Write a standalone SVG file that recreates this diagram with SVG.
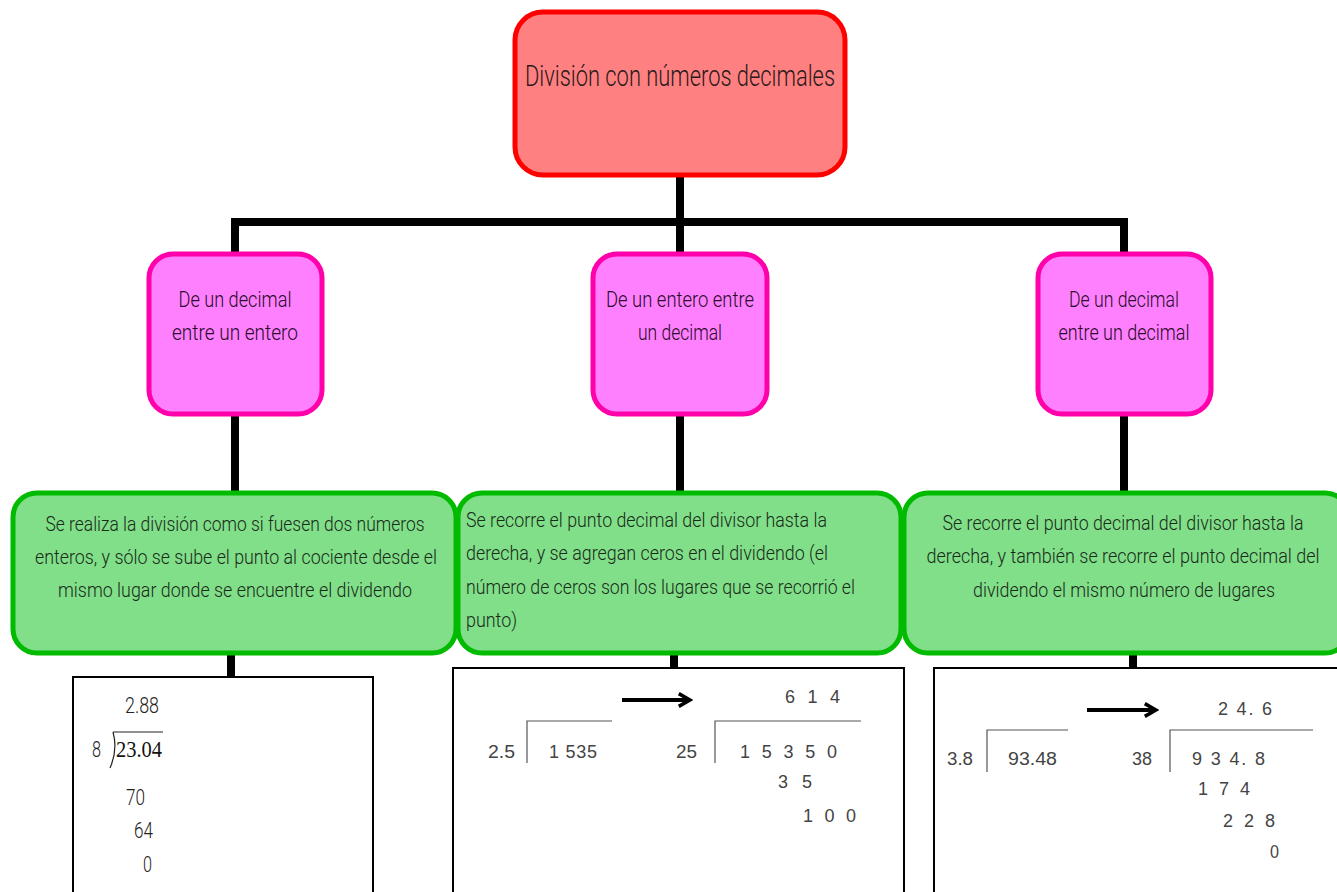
<svg xmlns="http://www.w3.org/2000/svg" width="1337" height="892" viewBox="0 0 1337 892">
<defs>
<style>
.title{font-family:Roboto,"Liberation Sans",sans-serif;font-weight:300;font-size:29px;fill:#2a1a1a;text-anchor:middle}
.pink{fill:#FF80FF;stroke:#FF00AA;stroke-width:5}
.green{fill:#80DF88;stroke:#00BB00;stroke-width:5}
.ptxt{font-family:Roboto,"Liberation Sans",sans-serif;font-weight:300;font-size:22px;fill:#2a0a2a;text-anchor:middle}
.gtxt{font-family:Roboto,"Liberation Sans",sans-serif;font-weight:300;font-size:21px;fill:#1a2a1a}
.mid{text-anchor:middle}
.conn{stroke:#000;stroke-width:8;fill:none}
.wbox{fill:#fff;stroke:#000;stroke-width:2}
.num{font-family:"Liberation Sans",Arial,sans-serif;font-size:18px;fill:#444}
.cnum{font-family:Roboto,"Liberation Sans",sans-serif;font-weight:300;font-size:22px;fill:#222}
.div{stroke:#555;stroke-width:1.2;fill:none}
.arr{stroke:#000;stroke-width:4;fill:none}
</style>
<marker id="ah" viewBox="0 0 10 10" refX="8" refY="5" markerWidth="4" markerHeight="4" orient="auto" markerUnits="strokeWidth">
<path d="M1,1 L8,5 L1,9" fill="none" stroke="#000" stroke-width="2.2"/>
</marker>
</defs>
<rect width="1337" height="892" fill="#fff"/>
<g id="connectors">
<path class="conn" d="M680,176 V222 M235,222 H1124 M235,218 V254 M680,222 V254 M1124,218 V254"/>
<path class="conn" d="M235,414 V494 M680,414 V494 M1124,414 V494"/>
<path class="conn" d="M231,654 V678 M674,654 V669 M1133,654 V669"/>
</g>
<g id="root">
<rect x="515" y="12" width="330" height="163" rx="28" fill="#FF8080" stroke="#FF0000" stroke-width="5"/>
<text class="title" x="680" y="86" textLength="310" lengthAdjust="spacingAndGlyphs">División con números decimales</text>
</g>
<g id="n1">
<rect class="pink" x="149" y="254" width="173" height="160" rx="24"/>
<text class="ptxt" x="235" y="307" textLength="113" lengthAdjust="spacingAndGlyphs">De un decimal</text>
<text class="ptxt" x="235" y="340" textLength="126" lengthAdjust="spacingAndGlyphs">entre un entero</text>
</g>
<g id="n2">
<rect class="pink" x="593" y="254" width="174" height="160" rx="24"/>
<text class="ptxt" x="680" y="307" textLength="148" lengthAdjust="spacingAndGlyphs">De un entero entre</text>
<text class="ptxt" x="680" y="340" textLength="84" lengthAdjust="spacingAndGlyphs">un decimal</text>
</g>
<g id="n3">
<rect class="pink" x="1038" y="254" width="173" height="160" rx="24"/>
<text class="ptxt" x="1124" y="307" textLength="110" lengthAdjust="spacingAndGlyphs">De un decimal</text>
<text class="ptxt" x="1124" y="340" textLength="131" lengthAdjust="spacingAndGlyphs">entre un decimal</text>
</g>
<g id="g1">
<rect class="green" x="13" y="493" width="443" height="160" rx="24"/>
<text class="gtxt mid" x="235" y="531" textLength="379" lengthAdjust="spacingAndGlyphs">Se realiza la división como si fuesen dos números</text>
<text class="gtxt mid" x="236" y="564" textLength="402" lengthAdjust="spacingAndGlyphs">enteros, y sólo se sube el punto al cociente desde el</text>
<text class="gtxt mid" x="235" y="597" textLength="354" lengthAdjust="spacingAndGlyphs">mismo lugar donde se encuentre el dividendo</text>
</g>
<g id="g2">
<rect class="green" x="458" y="493" width="443" height="160" rx="24"/>
<text class="gtxt" x="466" y="527" textLength="361" lengthAdjust="spacingAndGlyphs">Se recorre el punto decimal del divisor hasta la</text>
<text class="gtxt" x="466" y="560" textLength="362" lengthAdjust="spacingAndGlyphs">derecha, y se agregan ceros en el dividendo (el</text>
<text class="gtxt" x="466" y="594" textLength="389" lengthAdjust="spacingAndGlyphs">número de ceros son los lugares que se recorrió el</text>
<text class="gtxt" x="466" y="627" textLength="51" lengthAdjust="spacingAndGlyphs">punto)</text>
</g>
<g id="g3">
<rect class="green" x="904" y="493" width="445" height="160" rx="24"/>
<text class="gtxt mid" x="1123" y="530" textLength="361" lengthAdjust="spacingAndGlyphs">Se recorre el punto decimal del divisor hasta la</text>
<text class="gtxt mid" x="1123" y="563" textLength="393" lengthAdjust="spacingAndGlyphs">derecha, y también se recorre el punto decimal del</text>
<text class="gtxt mid" x="1124" y="597" textLength="302" lengthAdjust="spacingAndGlyphs">dividendo el mismo número de lugares</text>
</g>
<g id="ex1">
<rect class="wbox" x="73" y="677" width="300" height="230"/>
<text class="cnum" x="125" y="713" textLength="34" lengthAdjust="spacingAndGlyphs">2.88</text>
<text class="cnum" x="92" y="757" textLength="9" lengthAdjust="spacingAndGlyphs">8</text>
<path d="M113,732 H163 M113,732 Q118,750 110,768" stroke="#222" stroke-width="1.2" fill="none"/>
<text x="116" y="757" font-family="'Liberation Serif','Times New Roman',serif" font-size="24" fill="#111" textLength="46" lengthAdjust="spacingAndGlyphs">23.04</text>
<text class="cnum" x="126" y="805" textLength="19" lengthAdjust="spacingAndGlyphs">70</text>
<text class="cnum" x="134" y="838" textLength="19" lengthAdjust="spacingAndGlyphs">64</text>
<text class="cnum" x="143" y="872" textLength="9" lengthAdjust="spacingAndGlyphs">0</text>
</g>
<g id="ex2">
<rect class="wbox" x="453" y="668" width="451" height="240"/>
<path class="arr" d="M622,700 H690" marker-end="url(#ah)"/>
<text class="num" x="785" y="703" textLength="55" lengthAdjust="spacing">6 1 4</text>
<path class="div" d="M527,763 V721 H612 M715,763 V721 H861"/>
<text class="num" x="488" y="758" textLength="27" lengthAdjust="spacingAndGlyphs">2.5</text>
<text class="num" x="549" y="758" textLength="48" lengthAdjust="spacing">1 535</text>
<text class="num" x="676" y="758" textLength="21" lengthAdjust="spacingAndGlyphs">25</text>
<text class="num" x="740" y="758" textLength="97" lengthAdjust="spacing">1 5 3 5 0</text>
<text class="num" x="778" y="788" textLength="34" lengthAdjust="spacing">3 5</text>
<text class="num" x="803" y="822" textLength="53" lengthAdjust="spacing">1 0 0</text>
</g>
<g id="ex3">
<rect class="wbox" x="934" y="668" width="420" height="240"/>
<path class="arr" d="M1087,710 H1156" marker-end="url(#ah)"/>
<text class="num" x="1218" y="715" textLength="54" lengthAdjust="spacing">2 4. 6</text>
<path class="div" d="M987,772 V730 H1068 M1170,772 V730 H1313"/>
<text class="num" x="947" y="765" textLength="26" lengthAdjust="spacingAndGlyphs">3.8</text>
<text class="num" x="1008" y="765" textLength="49" lengthAdjust="spacingAndGlyphs">93.48</text>
<text class="num" x="1132" y="765" textLength="20" lengthAdjust="spacingAndGlyphs">38</text>
<text class="num" x="1192" y="765" textLength="73" lengthAdjust="spacing">9 3 4. 8</text>
<text class="num" x="1198" y="795" textLength="52" lengthAdjust="spacing">1 7 4</text>
<text class="num" x="1223" y="827" textLength="52" lengthAdjust="spacing">2 2 8</text>
<text class="num" x="1270" y="858" textLength="9" lengthAdjust="spacingAndGlyphs">0</text>
</g>
</svg>
